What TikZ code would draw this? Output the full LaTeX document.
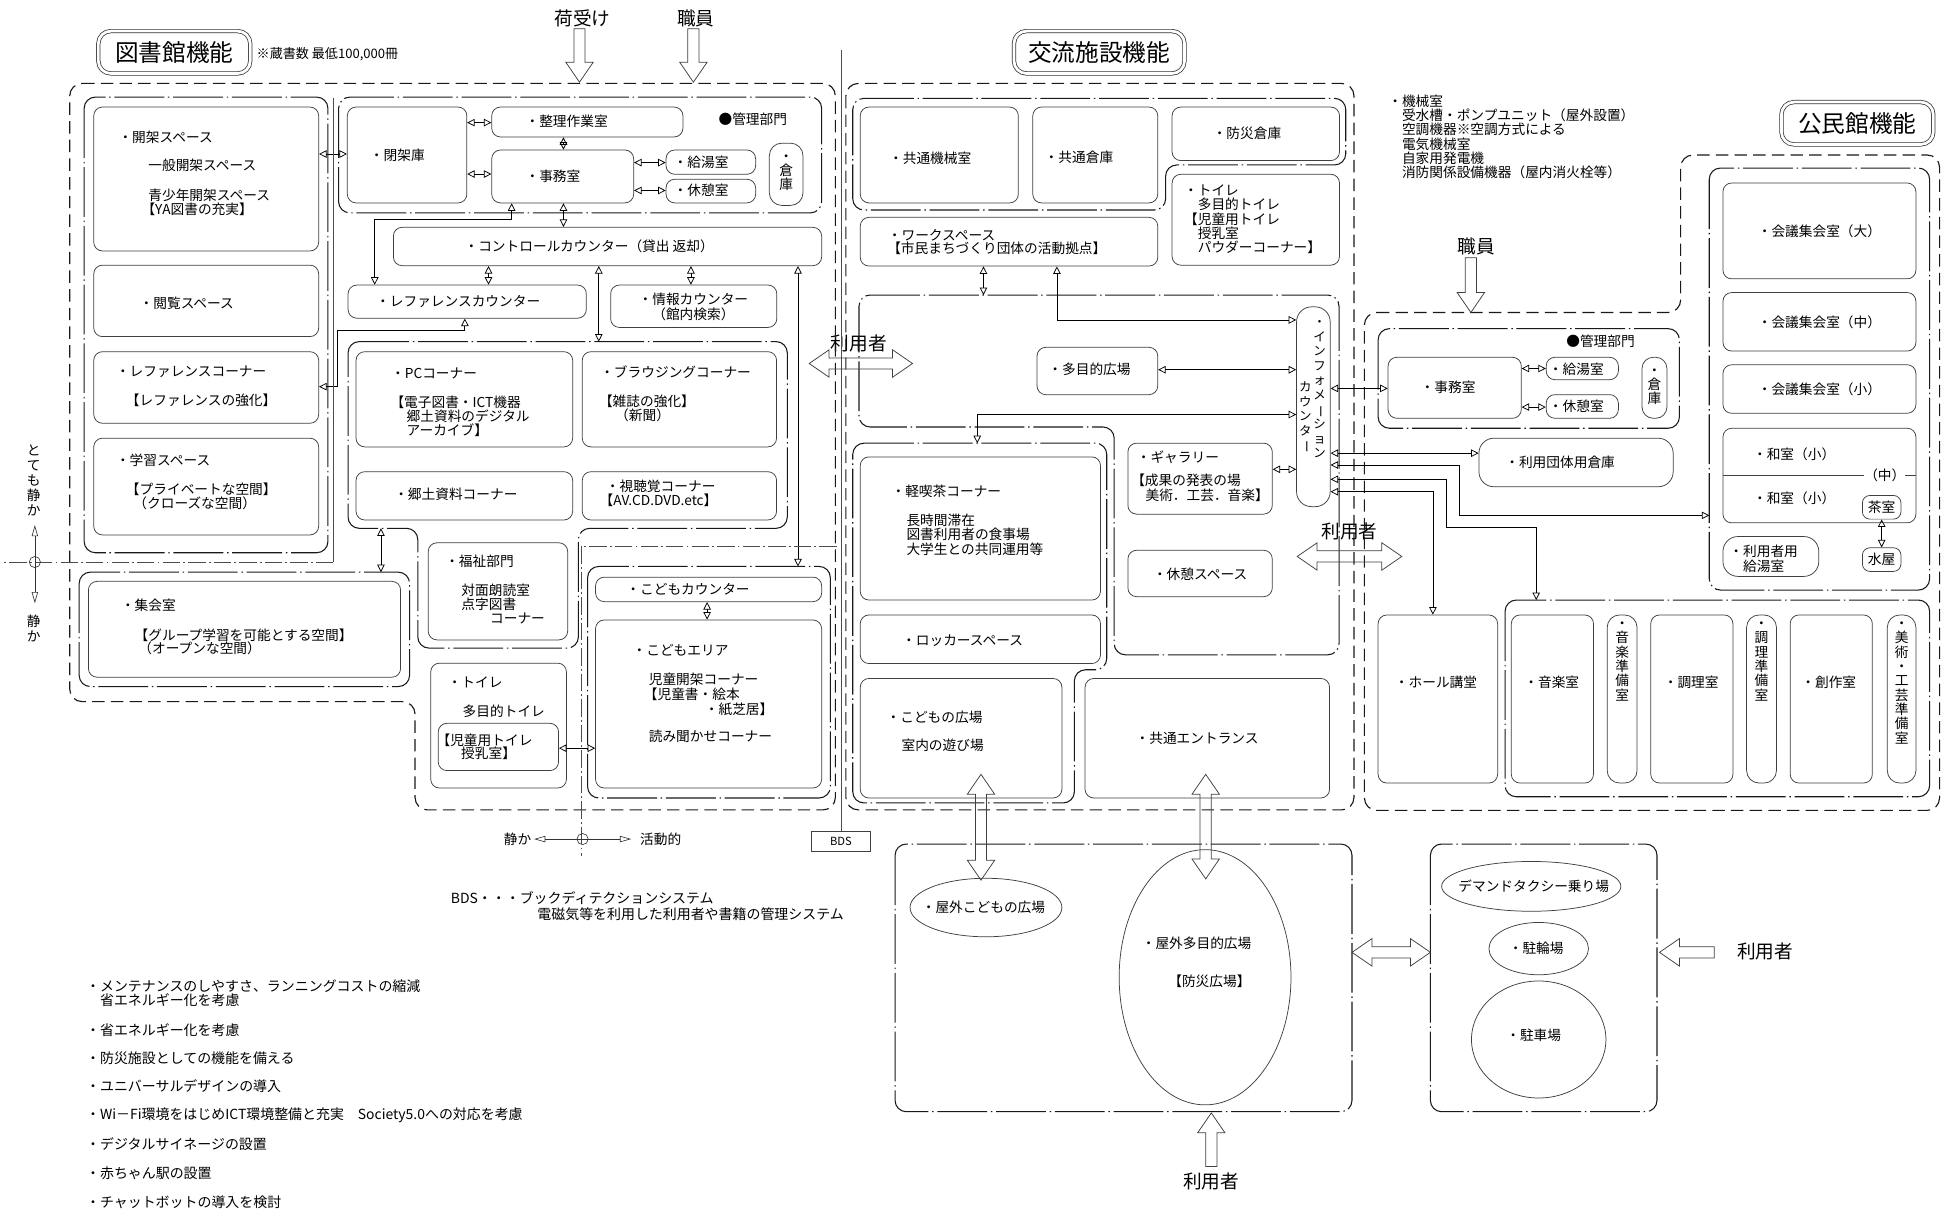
\documentclass[tikz,border=0pt]{standalone}
\usepackage{fontspec}
\setmainfont{Noto Sans CJK JP}
\usetikzlibrary{arrows.meta,shapes.geometric}
\newcommand\fs[2][13]{\fontsize{#2}{#1}\selectfont}
\newcommand\vl{\rotatebox[origin=c]{-90}{ー}}
\newcommand\vs{\rule[-0.12em]{0pt}{1em}}
\newcommand\rb[7][]{\node[bx,#1,minimum width={(#5)-(#3)},minimum height={(#6)-(#4)}] (#2) at ({((#3)+(#5))/2},{((#4)+(#6))/2}) {#7};}
\tikzset{
 bx/.style={draw=black!75,line width=0.6pt,rounded corners=7pt,inner sep=0pt,font=\fs{11}},
 grp/.style={draw=black!90,line width=0.85pt,rounded corners=9pt,dash pattern=on 40pt off 3pt on 1.2pt off 3pt},
 outer/.style={draw=black!90,line width=0.9pt,rounded corners=10pt,dash pattern=on 10pt off 5pt},
 t/.style={font=\fs{11},inner sep=0pt,anchor=west,execute at begin node=\vs},
 tc/.style={font=\fs{11},inner sep=0pt,execute at begin node=\vs},
 vt/.style={font={\fs[11.5]{11}},inner sep=0pt,align=center},
 big/.style={font=\fs{15},inner sep=0pt},
 title/.style={draw=black!80,line width=0.6pt,double,double distance=2.2pt,rounded corners=10pt,inner sep=0pt,font={\fs[22]{19}}},
 con/.style={draw=black,line width=0.6pt,{Triangle[open,length=6pt,width=6pt]}-{Triangle[open,length=6pt,width=6pt]}},
 ind/.style={draw=black!80,line width=0.5pt,{Triangle[open,length=9pt,width=5pt]}-{Triangle[open,length=9pt,width=5pt]}},
 qline/.style={draw=black!70,line width=0.5pt},
 qdash/.style={draw=black!70,line width=0.5pt,dash pattern=on 14pt off 2.5pt on 1.5pt off 2.5pt},
 ell/.style={draw=black!75,line width=0.6pt,ellipse,inner sep=0pt},
 blockarr/.style={draw=black!75,line width=0.6pt,line join=miter},
 pics/blk/.style={code={\draw[blockarr] (0,-4.5) -- ({#1-16},-4.5) -- ({#1-16},-11) -- (#1,0) -- ({#1-16},11) -- ({#1-16},4.5) -- (0,4.5) -- cycle;}},
 pics/dblk/.style={code={\draw[blockarr] (0,0) -- (16,-11) -- (16,-4.5) -- ({#1-16},-4.5) -- ({#1-16},-11) -- (#1,0) -- ({#1-16},11) -- ({#1-16},4.5) -- (16,4.5) -- (16,11) -- cycle;}},
}
\begin{document}
\begin{tikzpicture}[x=1pt,y=-1pt]
\useasboundingbox (0,0) rectangle (1568,973);
\fill[white] (0,0) rectangle (1568,973);

% ---------- titles and entries
\node[title,minimum width=122,minimum height=34] (ttl1) at (140,42) {図書館機能};
\node[t,font=\fs{10.5}] (note1) at (206,43) {※蔵書数 最低100,000冊};
\node[title,minimum width=137,minimum height=34] (ttl2) at (883,42) {交流施設機能};
\node[title,minimum width=122,minimum height=34] (ttl3) at (1492,99) {公民館機能};
\node[big] (in1) at (468,15) {荷受け};
\node[big] (in2) at (559,15) {職員};
\node[big] (in3) at (1186,198) {職員};
\node[big] (u1) at (690,276) {利用者};
\node[big] (u2) at (1084,427) {利用者};
\node[big] (u3) at (1418,764) {利用者};
\node[big] (u4) at (973,949) {利用者};
\node[vt,anchor=north west,align=left] (mach) at (1115,75.5) {\vs・機械室\\　受水槽・ポンプユニット（屋外設置）\\　空調機器※空調方式による\\　電気機械室\\　自家用発電機\\　消防関係設備機器（屋内消火栓等）};

% ---------- library
\draw[outer] (56,67) -- (671,67) -- (671,650.6) -- (333.4,650.6) -- (333.4,563.6) -- (56,563.6) -- cycle;
\draw[grp] (67.6,78) rectangle (263.4,444);
\rb{A1}{75.3}{86}{256}{201.6}{}
\rb{A2}{75.3}{213}{256}{270.4}{}
\rb{A3}{75.3}{282.5}{256}{340}{}
\rb{A4}{75.3}{352}{256}{429.7}{}
\node[t] (tA1a) at (95,110) {・開架スペース};
\node[t] (tA1b) at (119,133) {一般開架スペース};
\node[t] (tA1c) at (119,156.6) {青少年開架スペース};
\node[t] (tA1d) at (113.5,168) {【YA図書の充実】};
\node[t] (tA2) at (112,243.6) {・閲覧スペース};
\node[t] (tA3a) at (93,298) {・レファレンスコーナー};
\node[t] (tA3b) at (101,321.3) {【レファレンスの強化】};
\node[t] (tA4a) at (93,369.5) {・学習スペース};
\node[t] (tA4b) at (101,393) {【プライベートな空間】};
\node[t] (tA4c) at (107,404.5) {（クローズな空間）};

\draw[grp] (272,78) rectangle (660,171);
\rb{B1}{279}{86}{375}{163}{}
\rb{B2}{395}{86}{548.6}{110}{}
\rb{B3}{395}{120.5}{509}{163}{}
\rb{B4}{535}{120.5}{607}{140}{}
\rb{B5}{535}{144}{607}{163}{}
\rb[rounded corners=10pt]{B6}{618}{115}{645}{165}{}
\node[t] (tB1) at (297,125) {・閉架庫};
\node[t] (tB2) at (422,97.6) {・整理作業室};
\node[t] (tB3) at (422,142) {・事務室};
\node[t] (tB4) at (541,130.6) {・給湯室};
\node[t] (tB5) at (541,153) {・休憩室};
\node[vt,anchor=north,font={\fs[11.3]{11}}] (tB6) at (631.5,119.5) {\vs・\\倉\\庫};
\node[t] (tB0) at (577,96) {●管理部門};

\rb{C1}{316}{182.6}{660}{213.4}{}
\node[t] (tC1) at (373,198) {・コントロールカウンター（貸出 返却）};
\rb{D1}{279.6}{229}{471}{255.6}{}
\node[t] (tD1) at (302,242.3) {・レファレンスカウンター};
\rb{D2}{490.5}{229}{624}{263}{}
\node[vt,anchor=north,font={\fs[12]{11}}] (tD2) at (557,234.5) {\vs・情報カウンター\\（館内検索）};

\draw[grp] (279.6,274.4) -- (632.4,274.4) -- (632.4,424.4) -- (464.6,424.4) -- (464.6,520.6) -- (335.6,520.6) -- (335.6,424.4) -- (279.6,424.4) -- cycle;
\rb{E1}{286}{282.5}{460}{359}{}
\rb{E2}{467.7}{282.5}{623.8}{359}{}
\rb{E3}{286}{378.9}{460}{417.7}{}
\rb{E4}{467.7}{378.9}{623.8}{417.7}{}
\node[t] (tE1a) at (314,299.8) {・PCコーナー};
\node[t] (tE1b) at (313.5,323.4) {【電子図書・ICT機器};
\node[t] (tE1c) at (326.5,334.7) {郷土資料のデジタル};
\node[t] (tE1d) at (326.5,345.4) {アーカイブ】};
\node[t] (tE2a) at (482,299) {・ブラウジングコーナー};
\node[t] (tE2b) at (481,322.6) {【雑誌の強化】};
\node[t] (tE2c) at (494,334) {（新聞）};
\node[t] (tE3) at (316.5,396.8) {・郷土資料コーナー};
\node[t] (tE4a) at (486.5,390.9) {・視聴覚コーナー};
\node[t] (tE4b) at (481.5,402) {【AV.CD.DVD.etc】};

\rb{F1}{344}{436}{456}{514}{}
\node[t] (tF1a) at (357.5,451) {・福祉部門};
\node[t] (tF1b) at (370.5,474) {対面朗読室};
\node[t] (tF1c) at (370.5,485.5) {点字図書};
\node[t] (tF1d) at (393.5,497) {コーナー};

\draw[grp] (63.6,459.6) rectangle (329,551.5);
\rb{G1}{71}{467}{321.8}{544}{}
\node[t] (tG1a) at (97,486.5) {・集会室};
\node[t] (tG1b) at (108,510) {【グループ学習を可能とする空間】};
\node[t] (tG1c) at (111,521) {（オープンな空間）};

\rb{H}{346}{532.7}{455}{633}{}
\rb{H1}{352}{581}{448.7}{619}{}
\node[t] (tHa) at (359.5,548) {・トイレ};
\node[t] (tHb) at (371.5,571.6) {多目的トイレ};
\node[t] (tHc) at (350.5,594.4) {【児童用トイレ};
\node[t] (tHd) at (370.3,605) {授乳室】};

\draw[grp] (472,455) rectangle (667,641);
\rb{K1}{478.4}{463.6}{660}{483.3}{}
\rb{K2}{478.4}{498}{660}{633}{}
\node[t] (tK1) at (503,473.3) {・こどもカウンター};
\node[t] (tK2a) at (508,522) {・こどもエリア};
\node[t] (tK2b) at (521,545.7) {児童開架コーナー};
\node[t] (tK2c) at (517,557.5) {【児童書・絵本};
\node[t] (tK2d) at (566,569.6) {・紙芝居】};
\node[t] (tK2e) at (521,591.7) {読み聞かせコーナー};

% library connectors
\draw[con] (A1.east |- 0,123.7) -- (B1.west |- 0,123.7);
\draw[con] (B1.east |- 0,98.5) -- (B2.west |- 0,98.5);
\draw[con] (B1.east |- 0,139.8) -- (B3.west |- 0,139.8);
\draw[con] (B2.south -| 452.6,0) -- (B3.north -| 452.6,0);
\draw[con] (B3.east |- 0,130.6) -- (B4.west |- 0,130.6);
\draw[con] (B3.east |- 0,153) -- (B5.west |- 0,153);
\draw[con] (B3.south -| 452.6,0) -- (C1.north -| 452.6,0);
\draw[con] (B3.south -| 411,0) -- (411,176) -- (301,176) -- (D1.north -| 301,0);
\draw[con] (C1.south -| 392.4,0) -- (D1.north -| 392.4,0);
\draw[con] (C1.south -| 555,0) -- (D2.north -| 555,0);
\draw[con] (C1.south -| 481,0) -- (481,274.4);
\draw[con] (C1.south -| 641,0) -- (641,455);
\draw[con] (D1.south -| 373.4,0) -- (373.4,265) -- (271,265) -- (271,310.6) -- (A3.east |- 0,310.6);
\draw[con] (306,424.4) -- (306,459.6);
\draw[con] (H1.east |- 0,601) -- (K2.west |- 0,601);
\draw[con] (K1.south -| 568,0) -- (K2.north -| 568,0);

% quiet / active indicators
\draw[qline] (267.6,79) -- (267.6,451.5);
\draw[qdash] (267.6,451.5) -- (3,451.5);
\draw[qdash] (672,439) -- (466.8,439) -- (466.8,688);
\coordinate (q1t) at (28,421.7);
\coordinate (q1b) at (28,484.6);
\draw[ind] (q1t) -- (q1b);
\node[circle,draw=black!80,line width=0.5pt,minimum size=9,inner sep=0] (q1) at (28,451.5) {};
\node[vt,anchor=north,font={\fs[12]{11}}] (qt1) at (27,356) {\vs と\\て\\も\\静\\か};
\node[vt,anchor=north,font={\fs[12]{11}}] (qt2) at (27,493.5) {\vs 静\\か};
\coordinate (q2l) at (429,674);
\coordinate (q2r) at (507,674);
\draw[ind] (q2l) -- (q2r);
\node[circle,draw=black!80,line width=0.5pt,minimum size=9,inner sep=0] (q2) at (468,674) {};
\node[t,anchor=east] (qs) at (427,674) {静か};
\node[t] (qa) at (514,674) {活動的};

\node[draw=black!75,line width=0.5pt,minimum width=47,minimum height=16,inner sep=0,font=\fs{9}] (bds) at (675.5,676) {BDS};
\coordinate (bdstop) at (675.5,40);
\draw[qline] (bds.north) -- (bdstop);
\node[t,font=\fs{11.2}] (bds1) at (362,721.5) {BDS・・・ブックディテクションシステム};
\node[t,font=\fs{11.2}] (bds2) at (431.5,734) {電磁気等を利用した利用者や書籍の管理システム};

\node[t,font=\fs{11.2}] (L1) at (69,792) {・メンテナンスのしやすさ、ランニングコストの縮減};
\node[t,font=\fs{11.2}] (L1b) at (69,803.8) {　省エネルギー化を考慮};
\node[t,font=\fs{11.2}] (L2) at (69,827.3) {・省エネルギー化を考慮};
\node[t,font=\fs{11.2}] (L3) at (69,850) {・防災施設としての機能を備える};
\node[t,font=\fs{11.2}] (L4) at (69,872.9) {・ユニバーサルデザインの導入};
\node[t,font=\fs{11.2}] (L5) at (69,895.6) {・Wi－Fi環境をはじめICT環境整備と充実　Society5.0への対応を考慮};
\node[t,font=\fs{11.2}] (L6) at (69,918.9) {・デジタルサイネージの設置};
\node[t,font=\fs{11.2}] (L7) at (69,942.4) {・赤ちゃん駅の設置};
\node[t,font=\fs{11.2}] (L8) at (69,966) {・チャットボットの導入を検討};

% ---------- exchange facility
\draw[outer] (679.5,67) rectangle (1087.6,650.6);
\draw[grp] (685,79) -- (1081,79) -- (1081,132.5) -- (936.3,132.5) -- (936.3,168.7) -- (685,168.7) -- cycle;
\rb{M1}{691}{86}{818}{163}{}
\rb{M2}{829.6}{86}{930}{163}{}
\rb{M3}{941.5}{86}{1076}{129}{}
\rb{M4}{941.5}{140}{1076}{213}{}
\rb{M5}{691}{174.6}{930}{213.7}{}
\node[t] (tM1) at (714,127) {・共通機械室};
\node[t] (tM2) at (839,126) {・共通倉庫};
\node[t] (tM3) at (974,107) {・防災倉庫};
\node[vt,anchor=north west,align=left] (tM4) at (951,147.1) {\vs・トイレ\\　多目的トイレ\\【児童用トイレ\\　授乳室\\　パウダーコーナー】};
\node[t] (tM5a) at (713,188.7) {・ワークスペース};
\node[t] (tM5b) at (712.5,199.5) {【市民まちづくり団体の活動拠点】};

\draw[grp] (690,237) -- (1075.6,237) -- (1075.6,526) -- (895,526) -- (895,343) -- (690,343) -- cycle;
\rb{N1}{833}{279}{930}{317}{}
\rb[rounded corners=12pt]{N2}{1041.5}{246.5}{1068.5}{407}{}
\rb{N3}{906}{356}{1022}{413}{}
\rb{N4}{906}{442}{1022}{479.3}{}
\node[t] (tN1) at (842,297) {・多目的広場};
\node[vt,anchor=north,font={\fs[11.7]{10}}] (tN2a) at (1060,253.4) {\vs・\\イ\\ン\\フ\\ォ\\メ\\\vl\\シ\\ョ\\ン};
\node[vt,anchor=north,font={\fs[11.7]{10}}] (tN2b) at (1048.5,305.6) {\vs カ\\ウ\\ン\\タ\\\vl};
\node[t] (tN3a) at (913,367) {・ギャラリー};
\node[t] (tN3b) at (908.5,386) {【成果の発表の場};
\node[t] (tN3c) at (920,398) {美術．工芸．音楽】};
\node[t] (tN4) at (926,461) {・休憩スペース};

\draw[grp] (685,356) -- (889,356) -- (889,538) -- (863,538) -- (863,645) -- (685,645) -- cycle;
\rb{O1}{691}{367}{884}{482}{}
\rb{O2}{691}{494}{884}{533}{}
\rb{O3}{691}{545}{853}{641}{}
\rb{O4}{871.6}{545}{1068}{641}{}
\node[t] (tO1a) at (716,395) {・軽喫茶コーナー};
\node[t] (tO1b) at (728,418) {長時間滞在};
\node[t] (tO1c) at (728,429.5) {図書利用者の食事場};
\node[t] (tO1d) at (728,441) {大学生との共同運用等};
\node[t] (tO2) at (724.5,514) {・ロッカースペース};
\node[t] (tO3a) at (712,576) {・こどもの広場};
\node[t] (tO3b) at (724,599) {室内の遊び場};
\node[t] (tO4) at (912,593) {・共通エントランス};

\draw[con] (M5.south -| 790,0) -- (790,237);
\draw[con] (M5.south -| 849,0) -- (849,257) -- (N2.west |- 0,257);
\draw[con] (N1.east |- 0,297) -- (N2.west |- 0,297);
\draw[con] (N2.west |- 0,333) -- (785,333) -- (785,356);
\draw[con] (N3.east |- 0,377) -- (N2.west |- 0,377);

% ---------- community hall
\draw[outer] (1096,251) -- (1350,251) -- (1350,124.5) -- (1558,124.5) -- (1558,651) -- (1096,651) -- cycle;
\draw[grp] (1107,264) rectangle (1349,344);
\rb{P1}{1115}{287}{1222}{336}{}
\rb{P2}{1242}{287}{1300}{305}{}
\rb{P3}{1242}{317}{1300}{336}{}
\rb[rounded corners=9pt]{P4}{1319}{287}{1339}{336}{}
\node[t] (tP1) at (1141,311) {・事務室};
\node[t] (tP2) at (1244,296.5) {・給湯室};
\node[t] (tP3) at (1244,326.6) {・休憩室};
\node[vt,anchor=north] (tP4) at (1329,291.5) {\vs・\\倉\\庫};
\node[t] (tP0) at (1258,274) {●管理部門};
\draw[con] (P1.east |- 0,296) -- (P2.west |- 0,296);
\draw[con] (P1.east |- 0,327) -- (P3.west |- 0,327);

\rb[rounded corners=12pt]{Q1}{1188}{352}{1344}{391}{}
\node[t] (tQ1) at (1209,371) {・利用団体用倉庫};

\draw[grp] (1373,135) rectangle (1550,474);
\rb{S1}{1384}{147}{1539}{224}{\vs・会議集会室（大）}
\rb{S2}{1384}{235}{1539}{282}{\vs・会議集会室（中）}
\rb{S3}{1384}{293}{1539}{332}{\vs・会議集会室（小）}
\rb{S4}{1384}{344}{1539}{420}{}
\draw[draw=black!75,line width=0.6pt] (S4.west |- 0,381.5) -- (S4.east |- 0,381.5);
\node[tc,fill=white] (tS4m) at (1514,381.5) {（中）};
\node[t] (tS4a) at (1408,365) {・和室（小）};
\node[t] (tS4b) at (1408,400) {・和室（小）};
\rb[rounded corners=6pt]{S5}{1496}{398}{1527}{417}{\vs 茶室}
\rb[rounded corners=6pt]{S6}{1496}{440}{1527}{459}{\vs 水屋}
\draw[con] (S5.south) -- (S6.north);
\rb[rounded corners=12pt]{S7}{1384}{431}{1461}{463}{}
\node[t] (tS7a) at (1389,443) {・利用者用};
\node[t] (tS7b) at (1400,455) {給湯室};

\rb{R0}{1107}{494}{1203}{629}{}
\node[tc] (tR0) at (1153.5,548) {・ホール講堂};
\draw[grp] (1209,482) rectangle (1550,640);
\rb{R1}{1214}{494}{1280}{629}{}
\rb[rounded corners=10pt]{R2}{1291}{494}{1315}{629}{}
\rb{R3}{1326}{494}{1392}{629}{}
\rb[rounded corners=10pt]{R4}{1403}{494}{1427}{629}{}
\rb{R5}{1438}{494}{1504}{629}{}
\rb[rounded corners=10pt]{R6}{1516}{494}{1539}{629}{}
\node[tc] (tR1) at (1246.5,548) {・音楽室};
\node[tc] (tR3) at (1358.5,548) {・調理室};
\node[tc] (tR5) at (1469,548) {・創作室};
\node[vt,anchor=north] (tR2) at (1303,495) {\vs・\\音\\楽\\準\\備\\室};
\node[vt,anchor=north] (tR4) at (1415,495) {\vs・\\調\\理\\準\\備\\室};
\node[vt,anchor=north] (tR6) at (1527.5,495) {\vs・\\美\\術\\・\\工\\芸\\準\\備\\室};

\coordinate (wa) at (1373,414);
\coordinate (ms) at (1234,482);
\draw[con] (N2.east |- 0,312) -- (P1.west |- 0,312);
\draw[con] (N2.east |- 0,364) -- (Q1.west |- 0,364);
\draw[con] (N2.east |- 0,373.5) -- (1172,373.5) -- (1172,414) -- (wa);
\draw[con] (N2.east |- 0,385) -- (1162,385) -- (1162,424) -- (1234,424) -- (ms);
\draw[con] (N2.east |- 0,395) -- (1151,395) -- (R0.north -| 1151,0);

% ---------- outdoor
\draw[grp] (719,678) rectangle (1086,893);
\node[ell,minimum width=122,minimum height=47] (X1) at (792,729) {};
\node[tc] (tX1) at (790,729) {・屋外こどもの広場};
\node[ell,minimum width=138,minimum height=205] (X2) at (968,785) {};
\node[t] (tX2a) at (917,758) {・屋外多目的広場};
\node[tc] (tX2b) at (971.5,788) {【防災広場】};
\draw[grp] (1149,678) rectangle (1331,893);
\node[ell,minimum width=144,minimum height=40] (Y1) at (1230,712) {};
\node[tc] (tY1) at (1232,712) {デマンドタクシー乗り場};
\node[ell,minimum width=80,minimum height=42] (Y2) at (1236,762) {};
\node[tc] (tY2) at (1234,762) {・駐輪場};
\node[ell,minimum width=108,minimum height=94] (Y3) at (1236,835) {};
\node[tc] (tY3) at (1232,832) {・駐車場};

% ---------- block arrows
\pic[rotate=-90] at (465.5,23) {blk=43};
\pic[rotate=-90] at (557,23) {blk=43};
\pic[rotate=-90] at (1181.5,207) {blk=44};
\pic at (650,292) {dblk=83};
\pic at (1042,447) {dblk=84};
\pic[rotate=-90] at (788,622) {dblk=85};
\pic[rotate=-90] at (968.5,622) {dblk=84};
\pic at (1086,765) {dblk=63};
\pic[rotate=180] at (1377,765) {blk=44};
\pic[rotate=90] at (973,937) {blk=43};
\end{tikzpicture}
\end{document}
